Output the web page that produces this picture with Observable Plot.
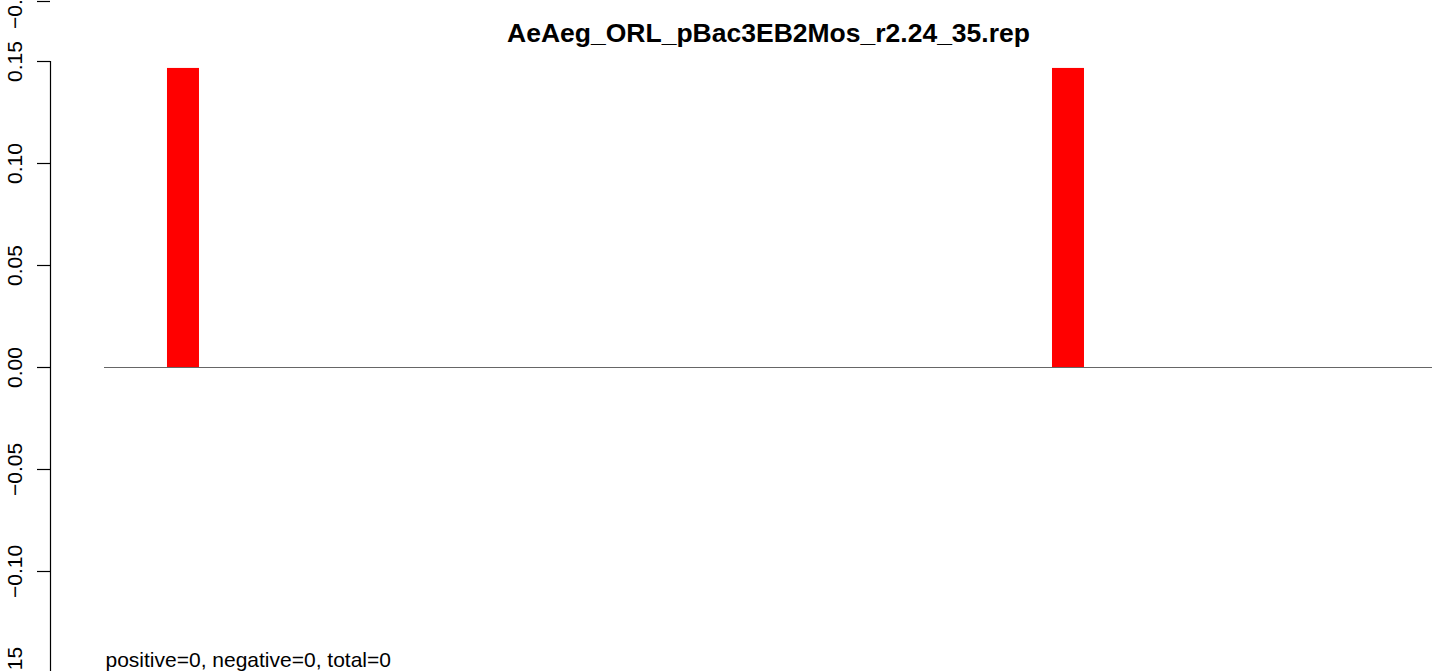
<!DOCTYPE html>
<html>
<head>
<meta charset="utf-8">
<script src="https://cdn.jsdelivr.net/npm/d3@7"></script>
<script src="https://cdn.jsdelivr.net/npm/@observablehq/plot@0.6"></script>
<style>
  html, body { margin: 0; padding: 0; background: #fff; }
  svg { display: block; }
</style>
</head>
<body>
<div id="chart"></div>
<script>
// ---- data ----
const chartTitle = "AeAeg_ORL_pBac3EB2Mos_r2.24_35.rep";
const bins = [1,2,3,4,5,6,7,8,9,10,11,12,13,14,15,16,17,18,19,20,21,22,23,24,25,26,27,28,29,30,31,32];
const values = [0.1466,0,0,0,0,0,0,0,0,0,0,0,0,0,0,0,0,0,0,0,0,0,0,0.1466,0,0,0,0,0,0,0,0];
const yTicks = [-0.15, -0.10, -0.05, 0.00, 0.05, 0.10, 0.15];
const yTickLabels = ["−0.15", "−0.10", "−0.05", "0.00", "0.05", "0.10", "0.15"];
const neighbourLabel = ["−0.15"]; // cut-off axis label of the panel above
const positiveCount = [0];
const negativeCount = [0];
const totalCount = [0];

const data = bins.map((b, i) => ({bin: b, value: values[i]}));
const tickData = yTicks.map((t, i) => ({y: t, label: yTickLabels[i]}));
const footer = `positive=${positiveCount[0]}, negative=${negativeCount[0]}, total=${totalCount[0]}`;

const font = "'Liberation Sans', Arial, Helvetica, sans-serif";
const W = 1439, H = 671, ML = 104, MR = 7, MT = 61, MB = 0;
const axisX = 50, tickLen = 13;

const chart = Plot.plot({
  width: W,
  height: H,
  marginLeft: ML,
  marginRight: MR,
  marginTop: MT,
  marginBottom: MB,
  style: {fontFamily: font, background: "#fff", overflow: "visible"},
  x: {type: "band", domain: bins, range: [ML, W - MR], paddingInner: 0.1684, paddingOuter: 1.3406, align: 0.6105, round: false, axis: null},
  y: {domain: [-0.15, 0.15], range: [673, MT], axis: null},
  marks: [
    Plot.ruleY([0], {stroke: "#666", strokeWidth: 1}),
    Plot.barY(data, {x: "bin", y: "value", fill: "red"}),
    // axis line (outside the frame, like R's axis)
    Plot.ruleX([0], {x: null, dx: axisX - (ML + W - MR) / 2, stroke: "black", strokeWidth: 1.2}),
    // tick marks
    Plot.ruleY(yTicks, {insetRight: (W - MR - ML) - tickLen, dx: axisX - tickLen - ML, stroke: "black", strokeWidth: 1.2}),
    // tick of the neighbouring (cut-off) panel above
    Plot.ruleY([0], {y: null, insetRight: (W - MR - ML) - tickLen, dx: axisX - tickLen - ML, dy: 1 - (MT + H - MB) / 2, stroke: "black", strokeWidth: 1.2}),
    Plot.text(tickData, {y: "y", text: "label", frameAnchor: "left", dx: -83, rotate: -90, textAnchor: "middle", lineAnchor: "bottom", fontSize: 21, fill: "black"}),
    Plot.text(neighbourLabel, {text: d => d, frameAnchor: "top-left", dx: -83, dy: -59, rotate: -90, textAnchor: "middle", lineAnchor: "bottom", fontSize: 21, fill: "black"}),
    Plot.text([chartTitle], {text: d => d, frameAnchor: "top", dy: -19.3, lineAnchor: "bottom", textAnchor: "middle", fontSize: 26.5, fontWeight: "bold", fill: "black"}),
    Plot.text([footer], {text: d => d, frameAnchor: "bottom-left", dx: 1, dy: -5, lineAnchor: "bottom", textAnchor: "start", fontSize: 21, fill: "black"})
  ]
});
document.getElementById("chart").appendChild(chart);
</script>
</body>
</html>
